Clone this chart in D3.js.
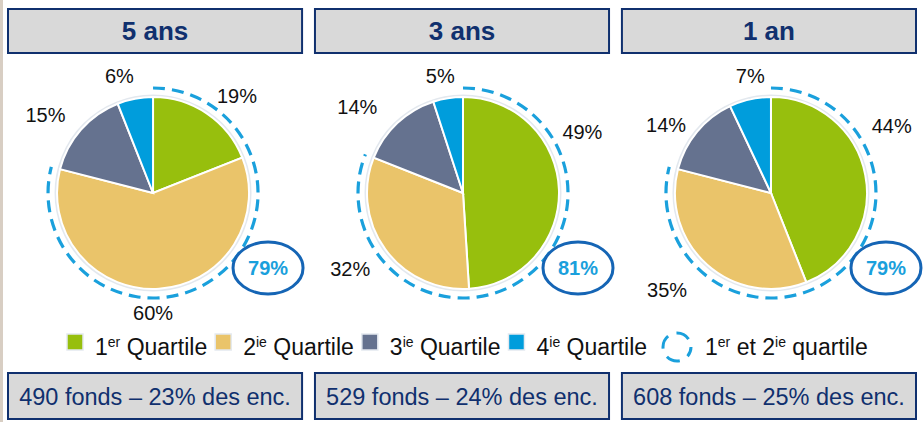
<!DOCTYPE html>
<html>
<head>
<meta charset="utf-8">
<script src="https://cdn.jsdelivr.net/npm/d3@7"></script>
<style>
  body { margin: 0; background: #fff; }
  svg { display: block; font-family: "Liberation Sans", Arial, sans-serif; }
</style>
</head>
<body>
<div id="vis"></div>
<script>
// data
const periods = ["5 ans", "3 ans", "1 an"];
const q1 = [19, 49, 44];
const q2 = [60, 32, 35];
const q3 = [15, 14, 14];
const q4 = [6, 5, 7];
const topTwo = [79, 81, 79];
const fundCounts = [490, 529, 608];
const assetShares = [23, 24, 25];
const quartileNums = ["1", "2", "3", "4"];
const quartileSups = ["er", "ie", "ie", "ie"];
const dashLegend = ["1", "er", " et 2", "ie", " quartile"];

// layout
const FRAME_WIDTH = 923;
const FRAME_HEIGHT = 422;
const COLORS = ["#97bf0d", "#eac46a", "#65728f", "#009ddc"];
const NAVY = "#10306e";
const DASH_BLUE = "#1aa0dc";
const PIE_R = 96;
const DASH_R = 105;
const PIE_CY = 193;
// label placement (angle in degrees from top, clockwise; distance from center)
const LABEL_POS = [
  [[41, 128], [180, 120], [306, 133], [344, 122]],
  [[63, 134], [236, 136], [309, 136], [349, 119]],
  [[61, 138], [227, 142], [303, 125], [350, 119]]
];

const FRAME = d3.select('#vis')
  .append('svg')
    .attr('width', FRAME_WIDTH)
    .attr('height', FRAME_HEIGHT);

// beige strip on the left edge
FRAME.append('rect')
  .attr('x', 0).attr('y', 0).attr('width', 3).attr('height', FRAME_HEIGHT)
  .attr('fill', '#d8cec3');

const X_BAND = d3.scaleBand()
  .domain(periods)
  .range([8, 916])
  .paddingInner(0.042);

const pie = d3.pie().sort(null).value(d => d);
const arc = d3.arc().innerRadius(0).outerRadius(PIE_R);

periods.forEach((p, i) => {
  const x0 = X_BAND(p);
  const bw = X_BAND.bandwidth();
  const cx = x0 + bw / 2 + (i === 0 ? -2 : (i === 2 ? 2 : 1));
  const g = FRAME.append('g');

  // title box
  g.append('rect')
    .attr('x', x0).attr('y', 9).attr('width', bw).attr('height', 44)
    .attr('fill', '#d9d9d9').attr('stroke', NAVY).attr('stroke-width', 2);
  g.append('text')
    .attr('x', x0 + bw / 2).attr('y', 40)
    .attr('text-anchor', 'middle')
    .attr('font-size', 26).attr('font-weight', 'bold')
    .attr('fill', NAVY)
    .text(p);

  // bottom box
  g.append('rect')
    .attr('x', x0).attr('y', 373).attr('width', bw).attr('height', 46)
    .attr('fill', '#d9d9d9').attr('stroke', NAVY).attr('stroke-width', 2);
  g.append('text')
    .attr('x', x0 + bw / 2).attr('y', 405)
    .attr('text-anchor', 'middle')
    .attr('font-size', 23.5)
    .attr('fill', NAVY)
    .text(fundCounts[i] + ' fonds \u2013 ' + assetShares[i] + '% des enc.');

  // pie
  const vals = [q1[i], q2[i], q3[i], q4[i]];
  const arcs = pie(vals);
  const pg = g.append('g').attr('transform', `translate(${cx},${PIE_CY})`);
  pg.append('circle').attr('r', PIE_R + 1)
    .attr('fill', 'none').attr('stroke', '#e3e8ee').attr('stroke-width', 3);
  pg.selectAll('path.slice')
    .data(arcs)
    .enter()
    .append('path')
      .attr('class', 'slice')
      .attr('d', arc)
      .attr('fill', (d, k) => COLORS[k])
      .attr('stroke', '#fff')
      .attr('stroke-width', 2);

  // dashed arc around Q1 + Q2
  const endAngle = arcs[1].endAngle;
  const path = d3.path();
  path.arc(0, 0, DASH_R, -Math.PI / 2, endAngle - Math.PI / 2);
  pg.append('path')
    .attr('d', path.toString())
    .attr('fill', 'none')
    .attr('stroke', DASH_BLUE)
    .attr('stroke-width', 3.2)
    .attr('stroke-dasharray', '12 7');

  // slice labels
  pg.selectAll('text.lbl')
    .data(arcs)
    .enter()
    .append('text')
      .attr('class', 'lbl')
      .attr('x', (d, k) => LABEL_POS[i][k][1] * Math.sin(LABEL_POS[i][k][0] * Math.PI / 180))
      .attr('y', (d, k) => -LABEL_POS[i][k][1] * Math.cos(LABEL_POS[i][k][0] * Math.PI / 180))
      .attr('text-anchor', 'middle')
      .attr('dominant-baseline', 'central')
      .attr('font-size', 20)
      .attr('fill', '#111')
      .text(d => d.data + '%');

  // highlighted total
  pg.append('ellipse')
    .attr('cx', 115).attr('cy', 75).attr('rx', 35).attr('ry', 26)
    .attr('fill', '#fff').attr('stroke', '#1565b5').attr('stroke-width', 3);
  pg.append('text')
    .attr('x', 115).attr('y', 75)
    .attr('text-anchor', 'middle')
    .attr('dominant-baseline', 'central')
    .attr('font-size', 20).attr('font-weight', 'bold')
    .attr('fill', DASH_BLUE)
    .text(topTwo[i] + '%');
});

// legend
const LEG_Y = 355;
const legend = FRAME.append('g');
let lx = 67;
quartileNums.forEach((n, k) => {
  legend.append('rect')
    .attr('x', lx).attr('y', LEG_Y - 21).attr('width', 16).attr('height', 16)
    .attr('fill', COLORS[k]).attr('stroke', '#e4e9ef').attr('stroke-width', 1.5);
  const t = legend.append('text')
    .attr('x', lx + 28).attr('y', LEG_Y)
    .attr('font-size', 23).attr('fill', '#111');
  t.append('tspan').text(n);
  t.append('tspan').attr('dy', -8).attr('font-size', 14).text(quartileSups[k]);
  t.append('tspan').attr('dy', 8).text(' Quartile');
  lx += 28 + t.node().getComputedTextLength() + 8;
});

legend.append('circle')
  .attr('cx', 677).attr('cy', LEG_Y - 8).attr('r', 14)
  .attr('fill', 'none').attr('stroke', DASH_BLUE).attr('stroke-width', 3)
  .attr('stroke-dasharray', '14 9')
  .attr('stroke-dashoffset', 4);
const t2 = legend.append('text')
  .attr('x', 705).attr('y', LEG_Y)
  .attr('font-size', 23).attr('fill', '#111');
dashLegend.forEach((s, k) => {
  const sp = t2.append('tspan').text(s);
  if (k % 2 === 1) sp.attr('dy', -8).attr('font-size', 14);
  else if (k > 0) sp.attr('dy', 8);
});
</script>
</body>
</html>
